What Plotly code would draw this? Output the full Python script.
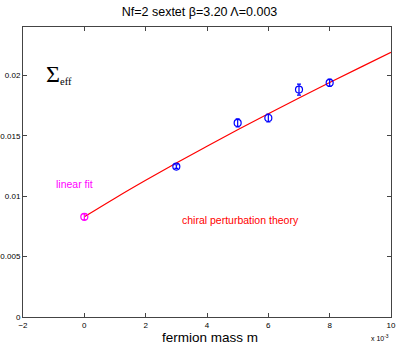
import plotly.graph_objects as go

# data (x in units of 1e-3)
mass_fit = [0]
sigma_fit = [0.00829]
err_fit = [0.00025]

mass = [3, 5, 6, 7, 8]
sigma = [0.01245, 0.01606, 0.01647, 0.01882, 0.01938]
err = [0.00015, 0.00033, 0.00033, 0.00045, 0.0003]

curve_m = [0, 1, 2, 3, 4, 5, 6, 7, 8, 9, 10]
curve_s = [0.00829, 0.00983, 0.01131, 0.01274, 0.01413, 0.01549,
           0.01682, 0.01812, 0.01940, 0.02066, 0.02190]

x_ticks = [-2, 0, 2, 4, 6, 8, 10]
y_ticks = [0, 0.005, 0.01, 0.015, 0.02]
y_labels = ["0", "0.005", "0.01", "0.015", "0.02"]

fig = go.Figure()
fig.add_trace(go.Scatter(
    x=curve_m, y=curve_s, mode="lines",
    line=dict(color="#ff0000", width=1.2, shape="spline"),
))
fig.add_trace(go.Scatter(
    x=mass, y=sigma, mode="markers",
    marker=dict(symbol="circle-open", size=7, color="#0000ff", line=dict(width=1.2)),
    error_y=dict(type="data", array=err, color="#0000ff", thickness=1.2, width=2),
))
fig.add_trace(go.Scatter(
    x=mass_fit, y=sigma_fit, mode="markers",
    marker=dict(symbol="circle-open", size=7, color="#ff00ff", line=dict(width=1.2)),
    error_y=dict(type="data", array=err_fit, color="#ff00ff", thickness=1.2, width=2),
))

font = "Liberation Sans, Arial, sans-serif"
fig.update_layout(
    width=399, height=346,
    margin=dict(l=23, r=8, t=27, b=29, autoexpand=False),
    paper_bgcolor="white", plot_bgcolor="white",
    showlegend=False,
    font=dict(family=font, color="black", size=8),
    title=dict(text="Nf=2 sextet β=3.20 Λ=0.003", x=0.5, xanchor="center",
               y=0.965, yanchor="middle", font=dict(size=12.5, family=font)),
)
fig.update_xaxes(
    range=[-2, 10], tickvals=x_ticks, ticks="inside", ticklen=4,
    showgrid=False, zeroline=False, showline=True, linecolor="#444",
    linewidth=1, mirror="ticks", tickfont=dict(size=8), automargin=False,
)
fig.update_yaxes(
    range=[0, 0.024], tickvals=y_ticks, ticktext=y_labels, ticks="inside",
    ticklen=4, showgrid=False, zeroline=False, showline=True,
    linecolor="#444", linewidth=1, mirror="ticks", tickfont=dict(size=8),
    automargin=False,
)

fig.add_annotation(x=-1.3, y=0.0201, xref="x", yref="y",
                   text="Σ<span style='font-size:15px'><sub>eff</sub></span>",
                   showarrow=False, xanchor="left", yanchor="middle",
                   font=dict(family="Liberation Serif, DejaVu Serif, serif", size=24))
fig.add_annotation(x=-0.33, y=0.0110, xref="x", yref="y", text="linear fit",
                   showarrow=False, xanchor="center",
                   font=dict(size=10.5, color="#ff00ff", family=font))
fig.add_annotation(x=5.1, y=0.0080, xref="x", yref="y", text="chiral perturbation theory",
                   showarrow=False, xanchor="center",
                   font=dict(size=10.5, color="#ff0000", family=font))
fig.add_annotation(x=0.507, y=-0.07, xref="paper", yref="paper", text="fermion mass m",
                   showarrow=False, xanchor="center", yanchor="middle",
                   font=dict(size=13.5, family=font))
fig.add_annotation(x=1.0, y=-0.072, xref="paper", yref="paper", text="x 10<sup>-3</sup>",
                   showarrow=False, xanchor="right", yanchor="middle",
                   font=dict(size=7, family=font))

# the page's default body margin would shift the figure by 8px
fig.write_html("out.html", config={"displayModeBar": False},
               post_script="document.body.style.margin='0';")
